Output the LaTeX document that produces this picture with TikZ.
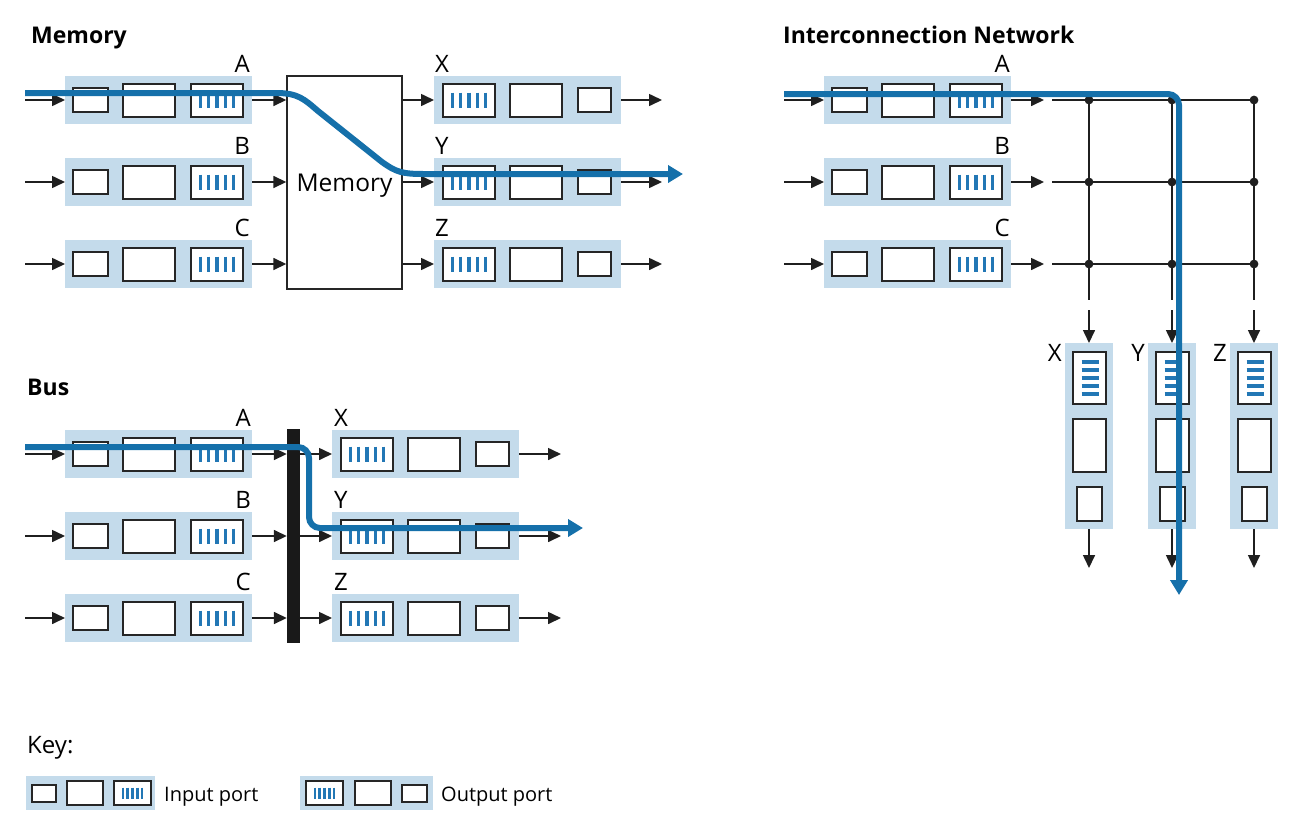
\documentclass[tikz,border=0pt]{standalone}
\usepackage{fontspec}
\setmainfont{Open Sans}
\usetikzlibrary{arrows.meta,calc}
\definecolor{portbg}{HTML}{C4DBEB}
\definecolor{bluep}{HTML}{1570AA}
\definecolor{stripec}{HTML}{2277B5}
\tikzset{
  pbg/.style={fill=portbg, draw=none, inner sep=0pt, outer sep=0pt},
  boxd/.style={draw=black!85, line width=1.6pt, fill=white},
  stripe/.style={draw=stripec, line width=3.3pt},
  arr/.style={draw=black!88, line width=1.6pt, -{Triangle[length=13pt,width=12pt]}},
  bluepath/.style={draw=bluep, line width=6pt, -{Triangle[length=15pt,width=17pt]}},
  lbl/.style={font=\fontsize{24}{26}\selectfont, inner sep=0pt},
  ttl/.style={font=\fontsize{23}{26}\selectfont\bfseries, inner sep=0pt},
}
% input port: name, left x, center y
\newcommand{\inport}[3]{%
  \node[pbg, minimum width=187pt, minimum height=48pt, anchor=west] (#1) at (#2,#3) {};
  \draw[boxd] (#2+8,#3-12) rectangle (#2+43,#3+12);
  \draw[boxd] (#2+58,#3-16) rectangle (#2+110,#3+17);
  \draw[boxd] (#2+126,#3-16) rectangle (#2+178,#3+17);
  \foreach \k in {-2,...,2} \draw[stripe] (#2+152+\k*8.3,#3-7.5) -- ++(0,15.5);
}
% output port: name, left x, center y
\newcommand{\outport}[3]{%
  \node[pbg, minimum width=187pt, minimum height=48pt, anchor=west] (#1) at (#2,#3) {};
  \draw[boxd] (#2+9,#3-16) rectangle (#2+61,#3+17);
  \draw[boxd] (#2+76,#3-16) rectangle (#2+128,#3+17);
  \draw[boxd] (#2+144,#3-12) rectangle (#2+177,#3+12);
  \foreach \k in {-2,...,2} \draw[stripe] (#2+35+\k*8.3,#3-7.5) -- ++(0,15.5);
}
% vertical output port: name, center x, top y
\newcommand{\vport}[3]{%
  \node[pbg, minimum width=48pt, minimum height=186pt, anchor=north] (#1) at (#2,#3) {};
  \draw[boxd] (#2-16,#3+9) rectangle (#2+17,#3+61);
  \draw[boxd] (#2-16,#3+76) rectangle (#2+17,#3+129);
  \draw[boxd] (#2-12,#3+144) rectangle (#2+13,#3+178);
  \foreach \k in {-2,...,2} \draw[stripec, line width=3.3pt] (#2-7.5,#3+35+\k*8) -- ++(17,0);
}
\begin{document}
\begin{tikzpicture}[x=1pt,y=-1pt]
\useasboundingbox (0,0) rectangle (1303,820);

%================ MEMORY =================
\node[ttl, anchor=base west] (tmem) at (31,43) {Memory};
\foreach \n/\y/\o in {A/100/X, B/182/Y, C/264/Z}{
  \inport{mi\n}{65}{\y}
  \outport{mo\o}{434}{\y}
  \node[lbl, anchor=base east] (lmi\n) at (250,\y-28) {\n};
  \node[lbl, anchor=base west] (lmo\o) at (435,\y-28) {\o};
  \coordinate (ms\n) at (25,\y);
  \coordinate (me\o) at (662,\y);
}
\node[draw=black!85, line width=1.4pt, minimum width=115pt, minimum height=213pt, inner sep=0pt] (mem) at (344.5,182.5) {};
\node[font=\fontsize{24.5}{26}\selectfont, inner sep=0pt, anchor=base] (memt) at (344.5,191) {Memory};
\foreach \n/\o in {A/X, B/Y, C/Z}{
  \draw[arr] (ms\n) -- (mi\n.west);
  \draw[arr] (mi\n.east) -- (mi\n.east -| mem.west);
  \draw[arr] (mo\o.west -| mem.east) -- (mo\o.west);
  \draw[arr] (mo\o.east) -- (me\o);
}
\coordinate (mb0) at (25,93);
\coordinate (mb1) at (683,174);
\draw[bluepath] (mb0) -- (276,93) .. controls (298,93) and (304,99) .. (318,111)
   -- (382,162) .. controls (396,172) and (402,174) .. (424,174) -- (mb1);

%================ BUS =================
\node[ttl, anchor=base west] (tbus) at (27,395) {Bus};
\foreach \n/\y/\o in {A/454/X, B/536/Y, C/618/Z}{
  \inport{bi\n}{65}{\y}
  \outport{bo\o}{332}{\y}
  \node[lbl, anchor=base east] (lbi\n) at (251,\y-28) {\n};
  \node[lbl, anchor=base west] (lbo\o) at (334,\y-28) {\o};
  \coordinate (bs\n) at (25,\y);
  \coordinate (be\o) at (561,\y);
}
\node[fill=black!90, minimum width=13pt, minimum height=214pt, inner sep=0pt] (bus) at (293.5,536) {};
\foreach \n/\o in {A/X, B/Y, C/Z}{
  \draw[arr] (bs\n) -- (bi\n.west);
  \draw[arr] (bi\n.east) -- (bi\n.east -| bus.west);
  \draw[arr] (bo\o.west -| bus.east) -- (bo\o.west);
  \draw[arr] (bo\o.east) -- (be\o);
}
\coordinate (bb0) at (25,447);
\coordinate (bb1) at (583,528);
\draw[bluepath, rounded corners=11pt] (bb0) -- (309,447) -- (309,528) -- (bb1);

%================ INTERCONNECTION =================
\node[ttl, anchor=base west] (tnet) at (783,43) {Interconnection Network};
\foreach \n/\y in {A/100, B/182, C/264}{
  \inport{ni\n}{824}{\y}
  \node[lbl, anchor=base east] (lni\n) at (1010,\y-28) {\n};
  \coordinate (ns\n) at (784,\y);
  \coordinate (nh\n) at (1052,\y);
  \coordinate (nr\n) at (1254,\y);
  \draw[arr] (ns\n) -- (ni\n.west);
  \draw[arr] (ni\n.east) -- (1044,\y);
  \draw[black!88, line width=1.7pt] (nh\n) -- (nr\n);
}
\foreach \o/\x in {X/1089, Y/1172, Z/1254}{
  \vport{no\o}{\x}{343}
  \node[lbl, anchor=base east] (lno\o) at (\x-27,361) {\o};
  \coordinate (nt\o) at (\x,100);
  \coordinate (nb\o) at (\x,300);
  \coordinate (nu\o) at (\x,310);
  \coordinate (nd\o) at (\x,568);
  \draw[black!88, line width=1.7pt] (nt\o) -- (nb\o);
  \draw[arr] (nu\o) -- (no\o.north);
  \draw[arr] (no\o.south) -- (nd\o);
  \foreach \y in {100,182,264} \fill[black!88] (\x,\y) circle (4.4);
}
\coordinate (nb0) at (784,94);
\coordinate (nb1) at (1179,595);
\draw[bluepath, rounded corners=11pt] (nb0) -- (1179,94) -- (nb1);

%================ KEY =================
\node[font=\fontsize{24}{26}\selectfont, inner sep=0pt, anchor=base west] (tkey) at (27,753) {Key:};
\node[pbg, minimum width=129pt, minimum height=34pt, anchor=west] (kin) at (26,793) {};
\draw[boxd] (32,785) rectangle (56,802);
\draw[boxd] (67,781) rectangle (103,805);
\draw[boxd] (114,781) rectangle (151,805);
\foreach \k in {-2,...,2} \draw[stripec, line width=2.5pt] (132.5+\k*4.8,787.5) -- ++(0,11);
\node[font=\fontsize{20}{22}\selectfont, inner sep=0pt, anchor=base west] (kint) at (164,801) {Input port};
\node[pbg, minimum width=133pt, minimum height=34pt, anchor=west] (kout) at (300,793) {};
\draw[boxd] (306,781) rectangle (343,805);
\draw[boxd] (355,781) rectangle (391,805);
\draw[boxd] (402,785) rectangle (427,802);
\foreach \k in {-2,...,2} \draw[stripec, line width=2.5pt] (324.5+\k*4.8,787.5) -- ++(0,11);
\node[font=\fontsize{20}{22}\selectfont, inner sep=0pt, anchor=base west] (koutt) at (441,801) {Output port};
\end{tikzpicture}
\end{document}
